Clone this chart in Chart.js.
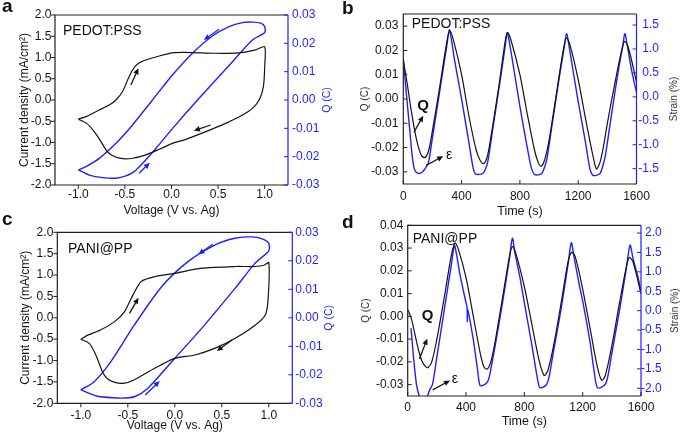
<!DOCTYPE html>
<html>
<head>
<meta charset="utf-8">
<script src="https://cdn.jsdelivr.net/npm/chart.js@4.4.0/dist/chart.umd.min.js"></script>
<style>
  body { margin: 0; background: #fff; }
  #wrap { position: relative; width: 685px; height: 439px; overflow: hidden; font-family: 'Liberation Sans', Arial, sans-serif; }
  #wrap canvas { position: absolute; left: 0; top: 0; }
  .tag { position: absolute; font-weight: bold; font-size: 19px; line-height: 1; color: #111; }
</style>
</head>
<body>
<div id="wrap">
  <canvas id="chartA" width="685" height="439"></canvas>
  <canvas id="chartB" width="685" height="439"></canvas>
  <canvas id="chartC" width="685" height="439"></canvas>
  <canvas id="chartD" width="685" height="439"></canvas>
  <div class="tag" style="left:2px; top:-4px">a</div>
  <div class="tag" style="left:342px; top:-2px">b</div>
  <div class="tag" style="left:2px; top:209px">c</div>
  <div class="tag" style="left:342px; top:212px">d</div>
</div>
<script>
// Cores e fonte
const FONT = "'Liberation Sans', Arial, sans-serif";
const BLUE = '#1f1fff';
const BLACK = '#141414';

// ---- Painel a: voltametria PEDOT:PSS ----
const cvAVolt = [-1.0, -0.918, -0.775, -0.668, -0.596, -0.525, -0.471, -0.418, -0.364, -0.275, -0.132, 0.01, 0.154, 0.475, 0.725, 0.904, 1.0,
                 1.0, 0.986, 0.94, 0.868, 0.761, 0.58, 0.368, 0.154, 0.01, -0.132, -0.275, -0.418, -0.525, -0.614, -0.686, -0.757, -0.829, -0.911, -1.0];
const cvACurr = [-0.45, -0.39, -0.235, -0.12, 0.0, 0.20, 0.47, 0.706, 0.847, 0.94, 1.035, 1.11, 1.12, 1.10, 1.11, 1.18, 1.255,
                 0.78, 0.31, 0.0, -0.196, -0.353, -0.55, -0.745, -0.925, -1.02, -1.16, -1.29, -1.37, -1.38, -1.33, -1.22, -0.98, -0.745, -0.55, -0.45];
const qAVolt = [-1.0, -0.882, -0.739, -0.596, -0.489, -0.4, -0.311, -0.168, 0.01, 0.296, 0.654, 0.868, 1.0,
                1.0, 0.957, 0.868, 0.761, 0.618, 0.439, 0.225, 0.01, -0.204, -0.418, -0.596, -0.775, -0.918, -1.0];
const qACharge = [-0.0247, -0.0265, -0.0274, -0.0276, -0.0268, -0.0253, -0.0224, -0.0171, -0.0101, 0.0006, 0.0135, 0.0212, 0.0238,
                  0.0259, 0.0271, 0.0275, 0.0273, 0.0259, 0.0226, 0.0165, 0.0088, 0.0, -0.0088, -0.0153, -0.0206, -0.0235, -0.0247];

// ---- Painel c: voltametria PANI@PP ----
const cvCVolt = [-1.0, -0.92, -0.786, -0.64, -0.536, -0.446, -0.357, -0.214, 0.0, 0.286, 0.643, 0.857, 0.95, 1.0,
                 0.993, 0.964, 0.857, 0.643, 0.43, 0.214, 0.0, -0.214, -0.43, -0.536, -0.64, -0.72, -0.77, -0.84, -0.91, -1.0];
const cvCCurr = [-0.50, -0.40, -0.28, -0.09, 0.14, 0.53, 0.85, 0.96, 1.04, 1.16, 1.20, 1.20, 1.23, 1.29,
                 0.46, 0.07, -0.17, -0.48, -0.71, -0.87, -0.95, -1.18, -1.45, -1.53, -1.51, -1.42, -1.26, -0.87, -0.60, -0.50];
const qCVolt = [-1.0, -0.857, -0.786, -0.571, -0.43, -0.286, 0.0, 0.286, 0.643, 0.85, 1.0,
                1.0, 0.93, 0.82, 0.64, 0.43, 0.14, -0.14, -0.43, -0.68, -0.857, -1.0];
const qCCharge = [-0.0253, -0.0272, -0.0277, -0.0282, -0.0277, -0.0247, -0.0142, -0.0037, 0.0104, 0.019, 0.0235,
                  0.0261, 0.0277, 0.0284, 0.0279, 0.0256, 0.0197, 0.0109, -0.0025, -0.0154, -0.0224, -0.0253];

// ---- Painel b: carga e deformação PEDOT:PSS ----
const timeQB = [0, 25, 50, 75, 100, 125, 150, 175, 200, 250, 300, 320, 345, 400, 450, 500, 525, 550, 575, 600, 650, 700, 715, 740,
                800, 850, 900, 925, 945, 970, 1000, 1050, 1100, 1120, 1145, 1200, 1250, 1300, 1325, 1350, 1375, 1400, 1450, 1500, 1520, 1545, 1600];
const chargeB = [0.016, 0.007, -0.003, -0.012, -0.019, -0.0233, -0.0241, -0.021, -0.013, 0.005, 0.024, 0.0282, 0.024, 0.010, -0.007, -0.021, -0.025, -0.0266, -0.024, -0.016, 0.003, 0.024, 0.0274, 0.024,
                 0.010, -0.006, -0.021, -0.026, -0.0277, -0.025, -0.017, 0.002, 0.021, 0.0251, 0.022, 0.008, -0.008, -0.023, -0.0288, -0.026, -0.019, -0.010, 0.006, 0.0205, 0.0237, 0.021, 0.007];
const timeSB = [0, 20, 40, 60, 75, 90, 110, 130, 150, 172, 200, 250, 300, 316, 330, 350, 400, 450, 480, 495, 520, 545, 565, 580, 620, 670, 700, 713, 730, 760,
                800, 850, 880, 900, 925, 950, 968, 985, 1020, 1070, 1105, 1120, 1135, 1170, 1200, 1250, 1280, 1298, 1325, 1350, 1368, 1385, 1420, 1470, 1505, 1520, 1535, 1570, 1600];
const strainB = [0.80, 0.10, -0.55, -1.20, -1.50, -1.58, -1.60, -1.57, -1.50, -1.38, -0.85, 0.12, 1.10, 1.40, 1.20, 0.80, -0.05, -0.95, -1.50, -1.61, -1.62, -1.60, -1.50, -1.35, -0.55, 0.45, 1.08, 1.34, 1.10, 0.55,
                 -0.20, -1.05, -1.50, -1.62, -1.63, -1.60, -1.48, -1.30, -0.60, 0.40, 1.05, 1.32, 1.10, 0.45, -0.10, -0.95, -1.50, -1.63, -1.64, -1.60, -1.45, -1.25, -0.55, 0.45, 1.05, 1.32, 1.10, 0.50, 0.10];

// ---- Painel d: carga e deformação PANI@PP ----
const timeQD = [0, 25, 50, 75, 100, 125, 140, 165, 200, 250, 300, 324, 345, 400, 450, 500, 525, 545, 570, 600, 650, 700, 718, 740,
                800, 850, 900, 935, 960, 1000, 1050, 1100, 1125, 1150, 1200, 1250, 1300, 1330, 1355, 1400, 1450, 1500, 1520, 1545, 1600];
const chargeD = [0.003, -0.001, -0.008, -0.015, -0.020, -0.0222, -0.0225, -0.020, -0.010, 0.008, 0.027, 0.0322, 0.030, 0.017, 0.000, -0.017, -0.0225, -0.0232, -0.020, -0.011, 0.008, 0.027, 0.0307, 0.028,
                 0.013, -0.003, -0.019, -0.0259, -0.024, -0.013, 0.005, 0.024, 0.0282, 0.026, 0.012, -0.005, -0.022, -0.0281, -0.026, -0.013, 0.005, 0.022, 0.0259, 0.024, 0.010];
const timeSD = [23, 40, 60, 75, 90, 110, 130, 150, 170, 200, 250, 300, 320, 335, 360, 400, 407, 409, 412, 450, 480, 496, 520, 545, 560, 600, 650, 700, 718, 735, 770,
                800, 850, 885, 905, 930, 953, 970, 1000, 1050, 1100, 1122, 1140, 1180, 1200, 1250, 1280, 1300, 1330, 1358, 1375, 1400, 1450, 1500, 1525, 1545, 1580, 1605];
const strainD = [-0.45, -1.20, -1.90, -2.15, -2.30, -2.35, -2.25, -2.05, -1.90, -1.20, 0.0, 1.20, 1.68, 1.45, 0.90, 0.20, 0.08, -0.28, 0.02, -0.75, -1.55, -1.93, -1.92, -1.85, -1.70, -0.90, 0.20, 1.40, 1.87, 1.50, 0.85,
                 0.20, -0.85, -1.65, -1.98, -1.97, -1.90, -1.70, -1.05, 0.0, 1.20, 1.75, 1.40, 0.60, 0.25, -0.80, -1.60, -1.98, -1.97, -1.88, -1.65, -1.10, -0.05, 1.10, 1.69, 1.35, 0.85, 0.40];

// ---- Marcas dos eixos ----
const cvVoltTicks = [-1.0, -0.5, 0.0, 0.5, 1.0];
const cvCurrTicks = [-2.0, -1.5, -1.0, -0.5, 0.0, 0.5, 1.0, 1.5, 2.0];
const cvChargeTicks = [-0.03, -0.02, -0.01, 0.0, 0.01, 0.02, 0.03];
const timeTicks = [0, 400, 800, 1200, 1600];
const chargeTicksB = [-0.03, -0.02, -0.01, 0.0, 0.01, 0.02, 0.03];
const strainTicksB = [-1.5, -1.0, -0.5, 0.0, 0.5, 1.0, 1.5];
const chargeTicksD = [-0.03, -0.02, -0.01, 0.0, 0.01, 0.02, 0.03, 0.04];
const strainTicksD = [-2.0, -1.5, -1.0, -0.5, 0.0, 0.5, 1.0, 1.5, 2.0];

const zip = (xs, ys) => xs.map((x, i) => ({ x, y: ys[i] }));

// Plugin: moldura, tracinhos dos eixos, título do eixo direito, setas e textos
const decoPlugin = {
    id: 'deco',
    afterDatasetsDraw(chart, args, opts) {
        const { ctx, chartArea: a, scales } = chart;
        ctx.save();
        ctx.lineWidth = 1.2;
        ctx.strokeStyle = '#222';
        ctx.beginPath();
        ctx.moveTo(a.right, a.top);
        ctx.lineTo(a.left, a.top);
        ctx.lineTo(a.left, a.bottom);
        ctx.lineTo(a.right, a.bottom);
        ctx.stroke();
        ctx.strokeStyle = BLUE;
        ctx.beginPath();
        ctx.moveTo(a.right, a.top);
        ctx.lineTo(a.right, a.bottom);
        ctx.stroke();

        const len = 4;
        ctx.lineWidth = 1;
        ctx.strokeStyle = '#222';
        scales.x.ticks.forEach(t => {
            const px = scales.x.getPixelForValue(t.value);
            ctx.beginPath();
            ctx.moveTo(px, a.bottom);
            ctx.lineTo(px, opts.out ? a.bottom + len : a.bottom - len);
            ctx.stroke();
        });
        scales.y.ticks.forEach(t => {
            const py = scales.y.getPixelForValue(t.value);
            ctx.beginPath();
            ctx.moveTo(a.left, py);
            ctx.lineTo(opts.out ? a.left - len : a.left + len, py);
            ctx.stroke();
        });
        ctx.strokeStyle = BLUE;
        scales.y2.ticks.forEach(t => {
            const py = scales.y2.getPixelForValue(t.value);
            ctx.beginPath();
            ctx.moveTo(a.right, py);
            ctx.lineTo(a.right - len, py);
            ctx.stroke();
        });

        // título do eixo direito (lido de baixo para cima, como no original)
        const rt = opts.rightTitle;
        ctx.save();
        ctx.translate(a.right + rt.dx, (a.top + a.bottom) / 2);
        ctx.rotate(-Math.PI / 2);
        ctx.fillStyle = rt.color;
        ctx.font = `${rt.size}px ${FONT}`;
        ctx.textAlign = 'center';
        ctx.textBaseline = 'middle';
        ctx.fillText(rt.text, 0, 0);
        ctx.restore();

        // setas
        (opts.arrows || []).forEach(([x1, y1, x2, y2, axis, color]) => {
            const sx = scales.x, sy = scales[axis];
            const p1x = sx.getPixelForValue(x1), p1y = sy.getPixelForValue(y1);
            const p2x = sx.getPixelForValue(x2), p2y = sy.getPixelForValue(y2);
            const ang = Math.atan2(p2y - p1y, p2x - p1x);
            const head = 6, wid = 2.8;
            ctx.strokeStyle = color;
            ctx.fillStyle = color;
            ctx.lineWidth = 1.3;
            ctx.beginPath();
            ctx.moveTo(p1x, p1y);
            ctx.lineTo(p2x - head * 0.8 * Math.cos(ang), p2y - head * 0.8 * Math.sin(ang));
            ctx.stroke();
            ctx.beginPath();
            ctx.moveTo(p2x, p2y);
            ctx.lineTo(p2x - head * Math.cos(ang) + wid * Math.sin(ang), p2y - head * Math.sin(ang) - wid * Math.cos(ang));
            ctx.lineTo(p2x - head * Math.cos(ang) - wid * Math.sin(ang), p2y - head * Math.sin(ang) + wid * Math.cos(ang));
            ctx.closePath();
            ctx.fill();
        });

        // textos dentro do gráfico
        ctx.fillStyle = '#111';
        ctx.textBaseline = 'alphabetic';
        ctx.textAlign = 'left';
        ctx.font = `14px ${FONT}`;
        ctx.fillText(opts.sample.text, a.left + opts.sample.dx, a.top + opts.sample.dy);
        (opts.notes || []).forEach(n => {
            ctx.font = `${n.bold ? 'bold ' : ''}${n.size}px ${FONT}`;
            ctx.fillText(n.text, scales.x.getPixelForValue(n.x), scales.y.getPixelForValue(n.y));
        });
        ctx.restore();
    }
};

function linearAxis(s) {
    return {
        type: 'linear',
        position: s.position,
        min: s.min,
        max: s.max,
        grid: { display: false, drawTicks: false },
        border: { display: false },
        ticks: {
            color: s.color,
            font: { family: FONT, size: 12 },
            padding: s.pad,
            crossAlign: s.align || 'near',
            maxRotation: 0,
            callback: (v) => Number(v).toFixed(s.digits)
        },
        afterBuildTicks: (sc) => { sc.ticks = s.ticks.map(v => ({ value: v })); },
        afterFit: (sc) => {
            if (s.position === 'bottom') sc.height = s.size;
            else sc.width = s.size;
        },
        title: {
            display: !!s.title,
            text: s.title || '',
            color: s.titleColor || s.color,
            font: { family: FONT, size: s.titleSize || 12 },
            padding: { top: s.titlePad || 4, bottom: s.titlePad || 4 }
        }
    };
}

function buildPanel(id, p) {
    const { area, box } = p;
    p.x.position = 'bottom';
    p.x.size = box.bottom - area.b;
    p.y.position = 'left';
    p.y.size = area.l - box.left;
    p.y2.position = 'right';
    p.y2.size = box.right - area.r;
    return new Chart(document.getElementById(id), {
        type: 'scatter',
        data: { datasets: p.datasets },
        options: {
            responsive: false,
            animation: false,
            layout: { padding: { left: box.left, right: 685 - box.right, top: area.t, bottom: 439 - box.bottom } },
            plugins: {
                legend: { display: false },
                tooltip: { enabled: false },
                deco: p.deco
            },
            scales: { x: linearAxis(p.x), y: linearAxis(p.y), y2: linearAxis(p.y2) }
        },
        plugins: [decoPlugin]
    });
}

const lineSet = (data, axis, color, width, tension) => ({
    data, yAxisID: axis, showLine: true, borderColor: color, borderWidth: width,
    pointRadius: 0, tension, fill: false
});

// Painel a
buildPanel('chartA', {
    area: { l: 55, r: 288, t: 15, b: 185 },
    box: { left: 13.8, right: 322, bottom: 222.3 },
    x: { min: -1.25, max: 1.25, ticks: cvVoltTicks, digits: 1, title: 'Voltage (V vs. Ag)', titleSize: 12, pad: 2.2, color: BLACK },
    y: { min: -2, max: 2, ticks: cvCurrTicks, digits: 1, title: 'Current density (mA/cm²)', titleSize: 12, pad: 3.5, color: BLACK },
    y2: { min: -0.03, max: 0.03, ticks: cvChargeTicks, digits: 2, pad: 4, color: BLUE },
    datasets: [
        lineSet(zip(cvAVolt, cvACurr), 'y', BLACK, 1.2, 0.25),
        lineSet(zip(qAVolt, qACharge), 'y2', BLUE, 1.4, 0.25)
    ],
    deco: {
        out: true,
        rightTitle: { text: 'Q (C)', dx: 39, size: 10.5, color: BLUE },
        sample: { text: 'PEDOT:PSS', dx: 8, dy: 20 },
        arrows: [
            [-0.436, 0.353, -0.355, 0.746, 'y', BLACK],
            [0.419, -0.588, 0.241, -0.722, 'y', BLACK],
            [0.508, 0.02495, 0.348, 0.02118, 'y2', BLUE],
            [-0.348, -0.02587, -0.233, -0.02213, 'y2', BLUE]
        ]
    }
});

// Painel b
buildPanel('chartB', {
    area: { l: 403.3, r: 636.5, t: 14, b: 184 },
    box: { left: 354.8, right: 659, bottom: 222.9 },
    x: { min: 0, max: 1600, ticks: timeTicks, digits: 0, title: 'Time (s)', titleSize: 12.5, pad: 5.5, color: BLACK },
    y: { min: -0.035, max: 0.035, ticks: chargeTicksB, digits: 2, title: 'Q (C)', titleSize: 10, pad: 5, color: BLACK, titleColor: '#333' },
    y2: { min: -1.82, max: 1.73, ticks: strainTicksB, digits: 1, pad: 1.8, align: 'far', color: BLUE },
    datasets: [
        lineSet(zip(timeQB, chargeB), 'y', BLACK, 1.2, 0.3),
        lineSet(zip(timeSB, strainB), 'y2', BLUE, 1.4, 0.3)
    ],
    deco: {
        out: false,
        rightTitle: { text: 'Strain (%)', dx: 37.5, size: 10, color: '#333' },
        sample: { text: 'PEDOT:PSS', dx: 8.4, dy: 14 },
        arrows: [
            [73, -0.0137, 137, -0.0069, 'y', BLACK],
            [156, -0.0273, 274, -0.0236, 'y', BLACK]
        ],
        notes: [
            { text: 'Q', x: 96, y: -0.0047, size: 15, bold: true },
            { text: 'ε', x: 293, y: -0.0247, size: 14 }
        ]
    }
});

// Painel c
buildPanel('chartC', {
    area: { l: 57.3, r: 292.3, t: 232.3, b: 403.3 },
    box: { left: 14.8, right: 325, bottom: 437.3 },
    x: { min: -1.25, max: 1.25, ticks: cvVoltTicks, digits: 1, title: 'Voltage (V vs. Ag)', titleSize: 12, pad: 5, color: BLACK },
    y: { min: -2, max: 2, ticks: cvCurrTicks, digits: 1, title: 'Current density (mA/cm²)', titleSize: 12, pad: 4, color: BLACK },
    y2: { min: -0.03, max: 0.03, ticks: cvChargeTicks, digits: 2, pad: 3, color: BLUE },
    datasets: [
        lineSet(zip(cvCVolt, cvCCurr), 'y', BLACK, 1.2, 0.25),
        lineSet(zip(qCVolt, qCCharge), 'y2', BLUE, 1.4, 0.25)
    ],
    deco: {
        out: true,
        rightTitle: { text: 'Q (C)', dx: 36.4, size: 10.5, color: BLUE },
        sample: { text: 'PANI@PP', dx: 10.7, dy: 20.7 },
        arrows: [
            [-0.482, 0.105, -0.386, 0.47, 'y', BLACK],
            [0.608, -0.519, 0.447, -0.777, 'y', BLACK],
            [0.404, 0.0258, 0.251, 0.0223, 'y2', BLUE],
            [-0.314, -0.0271, -0.161, -0.0222, 'y2', BLUE]
        ]
    }
});

// Painel d
buildPanel('chartD', {
    area: { l: 407.7, r: 641, t: 225.3, b: 396 },
    box: { left: 356, right: 661.7, bottom: 432.9 },
    x: { min: 0, max: 1600, ticks: timeTicks, digits: 0, title: 'Time (s)', titleSize: 12.5, pad: 4.5, color: BLACK },
    y: { min: -0.035, max: 0.04, ticks: chargeTicksD, digits: 2, title: 'Q (C)', titleSize: 10, pad: 4.4, color: BLACK, titleColor: '#333' },
    y2: { min: -2.2, max: 2.2, ticks: strainTicksD, digits: 1, pad: 1, align: 'far', color: BLUE },
    datasets: [
        lineSet(zip(timeQD, chargeD), 'y', BLACK, 1.2, 0.3),
        lineSet(zip(timeSD, strainD), 'y2', BLUE, 1.4, 0.3)
    ],
    deco: {
        out: false,
        rightTitle: { text: 'Strain (%)', dx: 34.5, size: 10, color: '#333' },
        sample: { text: 'PANI@PP', dx: 5, dy: 18 },
        arrows: [
            [80, -0.0187, 134, -0.0098, 'y', BLACK],
            [171, -0.0323, 290, -0.0282, 'y', BLACK]
        ],
        notes: [
            { text: 'Q', x: 96, y: -0.0017, size: 15, bold: true },
            { text: 'ε', x: 302, y: -0.0291, size: 14 }
        ]
    }
});
</script>
</body>
</html>
